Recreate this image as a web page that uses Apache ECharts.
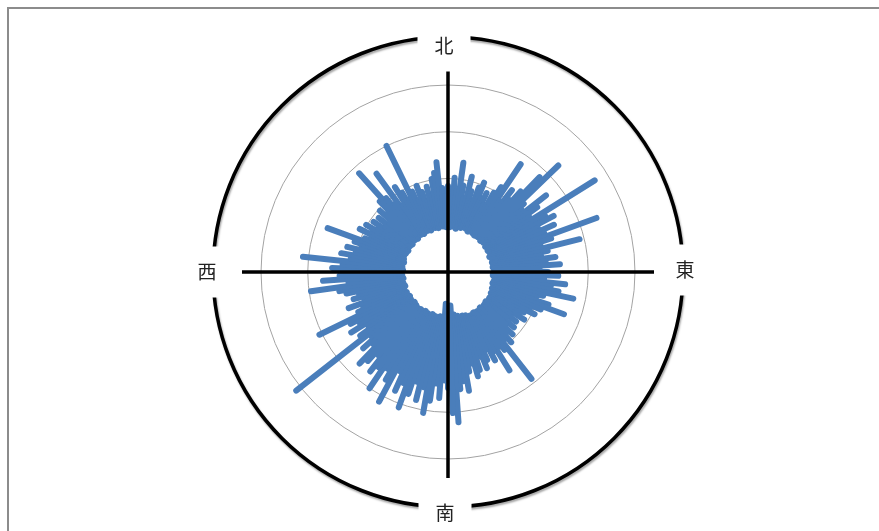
<!DOCTYPE html>
<html>
<head>
<meta charset="utf-8">
<script src="https://cdn.jsdelivr.net/npm/echarts@6/dist/echarts.min.js"></script>
<style>
  html, body { margin: 0; padding: 0; background: #fff; overflow: hidden; }
  #frame { position: absolute; left: 7px; top: 7px; width: 960px; height: 620px; border: 2px solid #8c8c8c; }
  #chart { position: absolute; left: 0; top: 0; width: 879px; height: 531px; }
</style>
</head>
<body>
<div id="frame"></div>
<div id="chart"></div>
<script>
// Spoke directions (degrees clockwise from north)
const angles = [0,2,4,6,8,10,12,14,16,18,20,22,24,26,28,30,32,34,36,38,
40,42,44,46,48,50,52,54,56,58,60,62,64,66,68,70,72,74,76,78,
80,82,84,86,88,90,92,94,96,98,100,102,104,106,108,110,112,114,116,118,
120,122,124,126,128,130,132,134,136,138,140,142,144,146,148,150,152,154,156,158,
160,162,164,166,168,170,172,174,176,178,180,182,184,186,188,190,192,194,196,198,
200,202,204,206,208,210,212,214,216,218,220,222,224,226,228,230,232,234,236,238,
240,242,244,246,248,250,252,254,256,258,260,262,264,266,268,270,272,274,276,278,
280,282,284,286,288,290,292,294,296,298,300,302,304,306,308,310,312,314,316,318,
320,322,324,326,328,330,332,334,336,338,340,342,344,346,348,350,352,354,356,358];

// Radius where each spoke starts
const innerValues = [5.1,4.8,5.3,4.9,5.2,4.7,5.0,5.4,4.9,5.1,
5.3,5.0,5.2,4.8,5.1,5.4,4.9,5.2,4.8,5.0,
4.9,5.2,5.0,4.8,5.1,4.9,5.3,5.0,4.8,5.1,
5.0,4.8,5.2,4.9,5.1,4.7,5.0,4.9,5.2,4.8,
4.9,5.1,4.8,5.0,5.2,4.9,5.1,4.8,5.0,5.3,
5.0,5.2,4.9,5.1,5.3,5.0,5.2,5.4,5.1,5.3,
5.4,5.2,5.5,5.3,5.1,5.4,5.2,5.5,5.3,5.1,
5.3,5.5,5.2,5.4,5.1,5.3,5.6,5.2,5.4,5.0,
5.2,4.9,5.3,5.0,4.8,5.1,4.6,4.9,3.6,4.8,
5.0,4.7,3.4,4.9,5.1,4.8,5.0,5.2,4.9,5.1,
4.8,5.0,5.2,4.9,5.1,4.8,5.0,5.3,4.9,5.1,
5.0,5.2,4.9,5.1,4.8,5.0,5.2,4.9,5.1,4.8,
5.0,5.2,4.9,5.1,5.3,5.0,4.8,5.1,4.9,5.2,
5.0,4.8,5.1,4.9,5.2,5.0,4.8,5.1,4.9,5.2,
5.0,4.8,5.1,4.9,5.2,5.0,5.3,4.9,5.1,4.8,
5.0,5.2,4.9,5.1,4.8,5.0,5.3,4.9,5.1,4.8,
5.0,5.2,4.9,5.1,4.8,5.0,5.2,4.9,5.1,4.8,
5.0,5.2,4.9,5.1,4.8,5.0,5.2,4.9,5.1,4.8];

// Radius where each spoke ends
const outerValues = [9.2,8.3,10.1,8.8,11.8,9.4,8.1,10.5,9.0,7.9,
9.6,10.3,8.6,9.4,8.1,9.8,10.7,13.9,9.4,11.1,
10.1,11.6,14.1,16.4,10.9,10.3,13.3,11.8,10.5,18.5,
12.0,12.8,10.7,12.4,11.1,16.9,11.6,10.3,14.5,10.9,
10.1,11.6,10.5,12.0,9.8,10.7,11.8,10.3,12.6,11.1,
12.0,13.7,10.5,9.8,11.3,13.2,10.7,9.6,10.3,9.2,
8.8,9.6,8.1,9.0,7.9,9.2,8.3,9.6,9.0,10.1,
9.4,14.5,10.3,9.6,12.4,9.8,10.7,9.2,10.3,11.1,
9.6,11.0,11.6,10.1,10.9,12.9,11.8,12.6,16.1,15.1,
12.4,11.6,13.5,12.0,13.9,15.3,12.6,14.1,12.2,13.7,
15.4,12.8,13.9,11.8,15.7,13.3,12.2,15.0,12.6,13.5,
11.6,12.8,13.6,11.1,12.2,10.7,20.6,11.6,10.3,12.2,
10.9,11.8,15.3,10.5,9.8,11.3,9.4,10.5,9.8,11.1,
11.8,14.8,10.7,13.4,11.6,10.9,12.4,11.3,15.6,10.5,
11.6,10.1,11.1,9.6,10.5,13.7,9.6,9.0,10.5,9.2,
10.1,8.8,9.6,8.3,9.4,8.1,9.8,9.0,10.5,14.2,
10.3,9.2,13.0,8.6,10.7,9.8,8.8,15.0,9.4,8.3,
9.8,9.0,7.9,9.4,8.3,10.1,10.7,11.8,9.0,8.1];

// Compass labels
const compassLabels = ['北', '東', '南', '西'];
const compassAngles = [0, 90, 180, 270];
const labelOffsets = [[-4, 9], [2, -2], [-3, 6], [-6, 0]];

const radiusTicks = { min: 0, max: 20, interval: 5 };

const spokeData = angles.map((a, i) => [innerValues[i], outerValues[i], a]);
const labelData = compassLabels.map((t, i) => ({
  name: t,
  value: [1, compassAngles[i]],
  label: { offset: labelOffsets[i] }
}));

const chart = echarts.init(document.getElementById('chart'), null, { renderer: 'canvas' });
const hidden = { axisLine: { show: false }, axisTick: { show: false }, axisLabel: { show: false }, splitLine: { show: false } };
const C = [448, 272];

chart.setOption({
  animation: false,
  backgroundColor: 'transparent',
  polar: [
    { center: C, radius: 235 },
    { center: C, radius: 206 },
    { center: C, radius: 187 }
  ],
  angleAxis: [
    Object.assign({}, hidden, {
      polarIndex: 0, type: 'value', min: 0, max: 360, startAngle: 90, clockwise: true,
      axisLine: { show: true, lineStyle: { color: '#000', width: 3.5, shadowColor: 'rgba(0,0,0,0.35)', shadowBlur: 2, shadowOffsetX: 1, shadowOffsetY: 2 } }
    }),
    Object.assign({}, hidden, {
      polarIndex: 1, type: 'value', min: 0, max: 360, interval: 90, startAngle: 90, clockwise: true, z: 10,
      splitLine: { show: true, lineStyle: { color: '#000', width: 3.5 } }
    }),
    Object.assign({}, hidden, {
      polarIndex: 2, type: 'value', min: 0, max: 360, startAngle: 90, clockwise: true
    })
  ],
  radiusAxis: [
    Object.assign({}, hidden, { polarIndex: 0, type: 'value', min: 0, max: 1 }),
    Object.assign({}, hidden, { polarIndex: 1, type: 'value', min: 0, max: 1 }),
    Object.assign({}, hidden, {
      polarIndex: 2, type: 'value', min: radiusTicks.min, max: radiusTicks.max, interval: radiusTicks.interval,
      splitLine: { show: true, lineStyle: { color: '#a3a3a3', width: 1 } }
    })
  ],
  series: [
    {
      type: 'custom',
      coordinateSystem: 'polar',
      polarIndex: 2,
      z: 3,
      data: spokeData,
      encode: { radius: [0, 1], angle: 2 },
      renderItem: function (params, api) {
        const p1 = api.coord([api.value(0), api.value(2)]);
        const p2 = api.coord([api.value(1), api.value(2)]);
        return {
          type: 'line',
          shape: { x1: p1[0], y1: p1[1], x2: p2[0], y2: p2[1] },
          style: { stroke: '#4a7ebb', lineWidth: 6, lineCap: 'round', fill: null }
        };
      }
    },
    {
      type: 'scatter',
      coordinateSystem: 'polar',
      polarIndex: 0,
      z: 20,
      symbolSize: 1,
      itemStyle: { color: 'rgba(0,0,0,0)', opacity: 1 },
      emphasis: { disabled: true },
      data: labelData,
      label: {
        show: true,
        position: 'inside',
        formatter: '{b}',
        fontFamily: 'Noto Sans CJK JP',
        fontSize: 19,
        color: '#222',
        opacity: 1,
        backgroundColor: '#ffffff',
        padding: [16, 17]
      }
    }
  ]
});
</script>
</body>
</html>
